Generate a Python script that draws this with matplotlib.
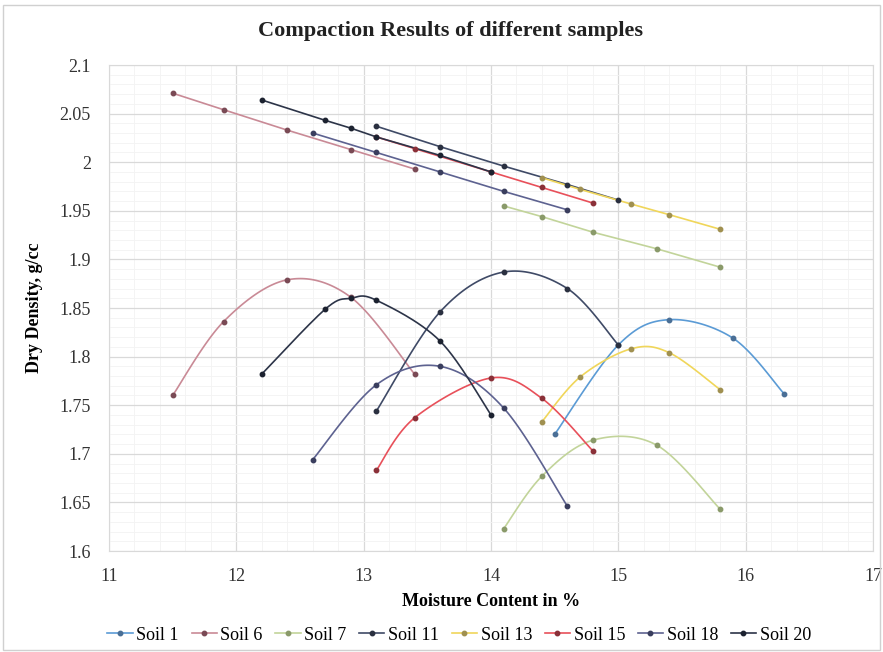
import numpy as np
import matplotlib.pyplot as plt
from matplotlib.patches import Rectangle

plt.rcParams['font.family'] = ['Liberation Serif', 'DejaVu Serif']

# compaction curves (moisture %, dry density g/cc)
soil1_w = [14.5, 15.0, 15.4, 15.9, 16.3]
soil1_d = [1.720, 1.812, 1.838, 1.819, 1.762]
soil6_w = [11.5, 11.9, 12.4, 12.9, 13.4]
soil6_d = [1.760, 1.836, 1.879, 1.861, 1.782]
soil7_w = [14.1, 14.4, 14.8, 15.3, 15.8]
soil7_d = [1.623, 1.677, 1.714, 1.709, 1.643]
soil11_w = [13.1, 13.6, 14.1, 14.6, 15.0]
soil11_d = [1.744, 1.846, 1.887, 1.870, 1.812]
soil13_w = [14.4, 14.7, 15.1, 15.4, 15.8]
soil13_d = [1.733, 1.779, 1.808, 1.804, 1.766]
soil15_w = [13.1, 13.4, 14.0, 14.4, 14.8]
soil15_d = [1.683, 1.737, 1.778, 1.757, 1.703]
soil18_w = [12.6, 13.1, 13.6, 14.1, 14.6]
soil18_d = [1.694, 1.771, 1.790, 1.747, 1.646]
soil20_w = [12.2, 12.7, 12.9, 13.1, 13.6, 14.0]
soil20_d = [1.782, 1.849, 1.860, 1.858, 1.816, 1.740]

# zero air voids lines
zav6_d = [2.071, 2.054, 2.033, 2.013, 1.993]
zav7_d = [1.955, 1.944, 1.928, 1.911, 1.892]
zav11_d = [2.037, 2.016, 1.996, 1.977, 1.961]
zav13_d = [1.984, 1.972, 1.957, 1.946, 1.931]
zav15_d = [2.026, 2.014, 1.990, 1.974, 1.958]
zav18_d = [2.030, 2.010, 1.990, 1.970, 1.951]
zav20_d = [2.064, 2.043, 2.035, 2.026, 2.007, 1.990]

names = ['Soil 1', 'Soil 6', 'Soil 7', 'Soil 11', 'Soil 13', 'Soil 15', 'Soil 18', 'Soil 20']
colors = ['#5b9bd5', '#c98a96', '#c2d49a', '#3f4a66', '#f0d65a', '#e8505a', '#5d6290', '#2c3448']
curves = [(soil1_w, soil1_d), (soil6_w, soil6_d), (soil7_w, soil7_d), (soil11_w, soil11_d),
          (soil13_w, soil13_d), (soil15_w, soil15_d), (soil18_w, soil18_d), (soil20_w, soil20_d)]
zav = [None, zav6_d, zav7_d, zav11_d, zav13_d, zav15_d, zav18_d, zav20_d]
mcols = ['#4a6f96', '#7a4a55', '#8a9a6a', '#2a3040', '#a09050', '#8a3038', '#3a3e5e', '#1c2230']


#smooth line like excel (catmull-rom in scaled space)
def smooth(x, y, sx=6.0, sy=0.5, n=30):
    p = np.column_stack([np.asarray(x) / sx, np.asarray(y) / sy])
    p = np.vstack([p[0], p, p[-1]])
    out = []
    for i in range(1, len(p) - 2):
        p0, p1, p2, p3 = p[i - 1], p[i], p[i + 1], p[i + 2]
        c1 = p1 + (p2 - p0) / 6
        c2 = p2 - (p3 - p1) / 6
        t = np.linspace(0, 1, n)[:, None]
        b = (1-t)**3*p1 + 3*(1-t)**2*t*c1 + 3*(1-t)*t**2*c2 + t**3*p2
        out.append(b)
    b = np.vstack(out)
    return b[:, 0] * sx, b[:, 1] * sy


fig = plt.figure(figsize=(8.83, 6.52), dpi=100)
ax = fig.add_axes([0.1234, 0.1549, 0.8653, 0.7454])

for i in range(len(names)):
    w, d = curves[i]
    sxs, sys_ = smooth(w, d)
    ax.plot(sxs, sys_, color=colors[i], lw=1.2, zorder=3)
    ax.plot(w, d, 'o', ms=3.2, color=mcols[i], zorder=4)
    if zav[i] is not None:
        ax.plot(w, zav[i], color=colors[i], lw=1.2, zorder=3)
        ax.plot(w, zav[i], 'o', ms=3.2, color=mcols[i], zorder=4)

#legend handles
handles = []
for i in range(len(names)):
    h, = ax.plot([], [], color=colors[i], lw=1.2, marker='o', ms=3.2,
                 markerfacecolor=mcols[i], markeredgecolor=mcols[i], label=names[i])
    handles.append(h)

ax.set_xlim(11, 17)
ax.set_ylim(1.6, 2.1)
ax.set_xticks(np.arange(11, 17.1, 1))
ax.set_yticks(np.arange(1.6, 2.101, 0.05))
ax.set_xticklabels(['11', '12', '13', '14', '15', '16', '17'])
ax.set_yticklabels(['1.6', '1.65', '1.7', '1.75', '1.8', '1.85', '1.9', '1.95', '2', '2.05', '2.1'])
ax.set_xticks(np.arange(11, 17.01, 0.2), minor=True)
ax.set_yticks(np.arange(1.6, 2.1, 0.01), minor=True)
ax.tick_params(which='both', length=0, labelsize=13, colors='#333333')
ax.tick_params(axis='x', pad=12)
ax.tick_params(axis='y', pad=13)
ax.grid(True, which='major', color='#d9d9d9', lw=0.9)
ax.grid(True, which='minor', color='#f3f3f3', lw=0.6)
ax.set_axisbelow(True)
for s in ax.spines.values():
    s.set_color('#d9d9d9')

ax.set_xlabel('Moisture Content in %', fontsize=13, fontweight='bold', labelpad=6)
ax.set_ylabel('Dry Density, g/cc', fontsize=13, fontweight='bold', labelpad=12)
fig.text(0.51, 0.952, 'Compaction Results of different samples', ha='center', va='center',
         fontsize=16, fontweight='bold', color='#222222')

fig.legend(handles=handles, loc='center', bbox_to_anchor=(0.52, 0.026), ncol=8, frameon=False,
           fontsize=13, handlelength=1.4, handletextpad=0.2, columnspacing=0.7)

fig.patches.append(Rectangle((0.003, 0.003), 0.994, 0.99, transform=fig.transFigure,
                             fill=False, edgecolor='#d0d0d0', lw=1))

plt.savefig('out.png', dpi=100)
